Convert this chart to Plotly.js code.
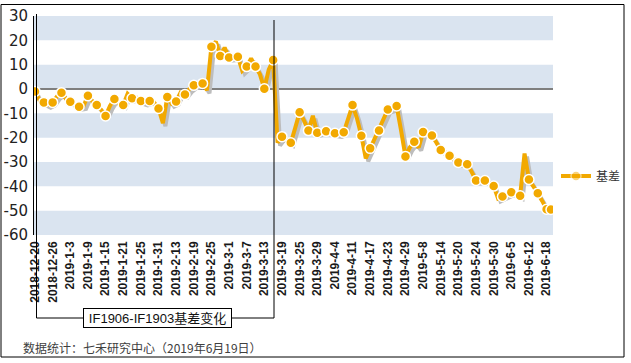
<!DOCTYPE html>
<html>
<head>
<meta charset="utf-8">
<script src="https://cdn.plot.ly/plotly-3.0.1.min.js"></script>
<style>html,body{margin:0;padding:0;background:#fff;}#chart{width:631px;height:363px;}</style>
</head>
<body>
<div id="chart"></div>
<script>
// Trading days (categories)
const dates = [
 "2018-12-20","2018-12-21","2018-12-24","2018-12-25","2018-12-26","2018-12-27","2018-12-28",
 "2019-1-2","2019-1-3","2019-1-4","2019-1-7","2019-1-8","2019-1-9","2019-1-10","2019-1-11","2019-1-14","2019-1-15","2019-1-16","2019-1-17","2019-1-18","2019-1-21","2019-1-22","2019-1-23","2019-1-24","2019-1-25","2019-1-28","2019-1-29","2019-1-30","2019-1-31",
 "2019-2-1","2019-2-11","2019-2-12","2019-2-13","2019-2-14","2019-2-15","2019-2-18","2019-2-19","2019-2-20","2019-2-21","2019-2-22","2019-2-25","2019-2-26","2019-2-27","2019-2-28",
 "2019-3-1","2019-3-4","2019-3-5","2019-3-6","2019-3-7","2019-3-8","2019-3-11","2019-3-12","2019-3-13","2019-3-14","2019-3-15","2019-3-18","2019-3-19","2019-3-20","2019-3-21","2019-3-22","2019-3-25","2019-3-26","2019-3-27","2019-3-28","2019-3-29",
 "2019-4-1","2019-4-2","2019-4-3","2019-4-4","2019-4-8","2019-4-9","2019-4-10","2019-4-11","2019-4-12","2019-4-15","2019-4-16","2019-4-17","2019-4-18","2019-4-19","2019-4-22","2019-4-23","2019-4-24","2019-4-25","2019-4-26","2019-4-29","2019-4-30",
 "2019-5-6","2019-5-7","2019-5-8","2019-5-9","2019-5-10","2019-5-13","2019-5-14","2019-5-15","2019-5-16","2019-5-17","2019-5-20","2019-5-21","2019-5-22","2019-5-23","2019-5-24","2019-5-27","2019-5-28","2019-5-29","2019-5-30","2019-5-31",
 "2019-6-3","2019-6-4","2019-6-5","2019-6-6","2019-6-10","2019-6-11","2019-6-12","2019-6-13","2019-6-14","2019-6-17","2019-6-18","2019-6-19"
];
// IF1906-IF1903 basis
const basis = [
 -1,-4.5,-5.5,-6.5,-5.5,-3,-1.5,
 -4,-5.2,-6.5,-7.3,-7,-2.8,-5,-6.6,-8.5,-11.1,-7,-4.1,-6,-6.6,-2,-3.8,-3.5,-4.9,-5.5,-4.9,-5.5,-8,
 -14,-3.3,-6,-5.1,-1.5,-2.3,0,1.5,2,2.3,-0.5,17.4,19.5,13.6,17,
 12.9,13,13.3,7.5,9.2,12.5,9.2,6,0.1,8,11.9,-22,-19.6,-21,-22.1,-16,-9.6,-13,-17.1,-11,-18,
 -17.5,-17.4,-17.5,-18.2,-18.5,-17.8,-12,-6.6,-12,-19.2,-28.5,-24.4,-21,-17.1,-13,-8.4,-8,-7,-17,-27.7,-24,
 -21.7,-24,-17.7,-18.5,-19.1,-22,-25.1,-26,-27.4,-29,-30.2,-30.5,-30.9,-34,-37.6,-37.5,-37.6,-38.5,-39.9,-45,
 -44.2,-43,-42.4,-43,-43.9,-26.5,-37.2,-40,-42.8,-46,-49.4,-49.5
];
const tickLabels = ["2018-12-20","2018-12-26","2019-1-3","2019-1-9","2019-1-15","2019-1-21","2019-1-25","2019-1-31","2019-2-13","2019-2-19","2019-2-25","2019-3-1","2019-3-7","2019-3-13","2019-3-19","2019-3-25","2019-3-29","2019-4-4","2019-4-11","2019-4-17","2019-4-23","2019-4-29","2019-5-8","2019-5-14","2019-5-20","2019-5-24","2019-5-30","2019-6-5","2019-6-12","2019-6-18"];
const yTickVals = [30, 20, 10, 0, -10, -20, -30, -40, -50, -60];
const yTickText = ["30", "20", "10", "0", "-10", "-20", "-30", "-40", "-50", "-60"];
const seriesName = "基差";
const boxLabel = "IF1906-IF1903基差变化";
const sourceNote = "数据统计：七禾研究中心（2019年6月19日）";

const ORANGE = "#f2a900";
const last = basis.length - 1;
const markerOpacity = basis.map((v, i) => (i % 2 === 0 || i === last) ? 1 : 0);

// geometry helpers (plot area in px)
const L = 34, R = 553, T = 16, B = 235, W = 631, H = 363;
const pw = R - L, ph = B - T;
const pxX = p => (p - L) / pw;
const pxY = p => (B - p) / ph;
const unitX = 516 / 117;            // px per category
const x0 = -(35 - L) / unitX;
const xr = [x0, x0 + pw / unitX];
const yr = [-60, 30];
const sx = 2.5 / unitX, sy = 3 * 90 / ph;

const shadow = {
  x: dates, y: basis, xaxis: "x", yaxis: "y", type: "scatter", mode: "lines",
  line: {color: "#bdbdbd", width: 4}, showlegend: false, hoverinfo: "skip"
};
const main = {
  x: dates, y: basis, xaxis: "x2", yaxis: "y2", type: "scatter", mode: "lines+markers",
  name: seriesName,
  line: {color: ORANGE, width: 4},
  marker: {color: ORANGE, size: 10, opacity: markerOpacity, line: {color: "#ffffff", width: 1.5}}
};

const bands = [];
for (let v = -60; v < 30; v += 20) {
  bands.push({type: "rect", xref: "paper", yref: "y2", x0: 0, x1: 1, y0: v, y1: v + 10,
    fillcolor: "#dae4f0", line: {width: 0}, layer: "below"});
}
const ln = (xa, ya, xb, yb) => ({type: "line", xref: "paper", yref: "paper",
  x0: pxX(xa), y0: pxY(ya), x1: pxX(xb), y1: pxY(yb), line: {color: "#000", width: 1}});

const shapes = bands.concat([
  {type: "rect", xref: "paper", yref: "paper", x0: pxX(1), x1: pxX(624), y0: pxY(357), y1: pxY(4.5),
   line: {color: "#000", width: 1}},
  ln(36.5, 14, 36.5, 318),
  ln(36.5, 318, 83, 318),
  ln(232, 318, 274, 318),
  ln(274, 318, 274, 20)
]);

const layout = {
  width: W, height: H,
  margin: {l: L, r: W - R, t: T, b: H - B, pad: 0, autoexpand: false},
  paper_bgcolor: "#fff", plot_bgcolor: "rgba(0,0,0,0)",
  showlegend: true,
  legend: {x: pxX(556), xanchor: "left", y: pxY(176), yanchor: "middle",
    font: {family: "Noto Sans CJK SC", size: 12, color: "#333"}, bgcolor: "rgba(0,0,0,0)"},
  xaxis: {type: "category", range: [xr[0] - sx, xr[1] - sx], visible: false, fixedrange: true},
  yaxis: {range: [yr[0] + sy, yr[1] + sy], visible: false, fixedrange: true},
  xaxis2: {type: "category", overlaying: "x", range: xr, tickmode: "array", tickvals: tickLabels, ticktext: tickLabels,
    tickangle: -90, ticks: "", showgrid: false, zeroline: false, showline: false,
    tickfont: {family: "Liberation Sans, Arial", size: 12, color: "#1a1a1a", weight: "bold"},
    ticklabelstandoff: 3},
  yaxis2: {overlaying: "y", range: yr, tickmode: "array", tickvals: yTickVals, ticktext: yTickText, ticks: "",
    showgrid: false, zeroline: true, zerolinecolor: "#7f7f7f", zerolinewidth: 2,
    showline: true, linecolor: "#000", linewidth: 1,
    tickfont: {family: "DejaVu Sans", size: 15, color: "#222"}, ticklabelstandoff: 2},
  shapes: shapes,
  annotations: [
    {xref: "paper", yref: "paper", x: pxX(157.5), y: pxY(318), text: boxLabel, showarrow: false,
     xanchor: "center", yanchor: "middle",
     font: {family: "Liberation Sans, Noto Sans CJK SC", size: 13, color: "#111"},
     bgcolor: "#fff", bordercolor: "#000", borderwidth: 1, borderpad: 1, width: 145, height: 16},
    {xref: "paper", yref: "paper", x: pxX(21), y: pxY(347), text: sourceNote, showarrow: false,
     xanchor: "left", yanchor: "middle",
     font: {family: "Noto Sans CJK SC", size: 12, color: "#404040"}}
  ]
};

Plotly.newPlot("chart", [shadow, main], layout, {staticPlot: true, displayModeBar: false});
</script>
</body>
</html>
